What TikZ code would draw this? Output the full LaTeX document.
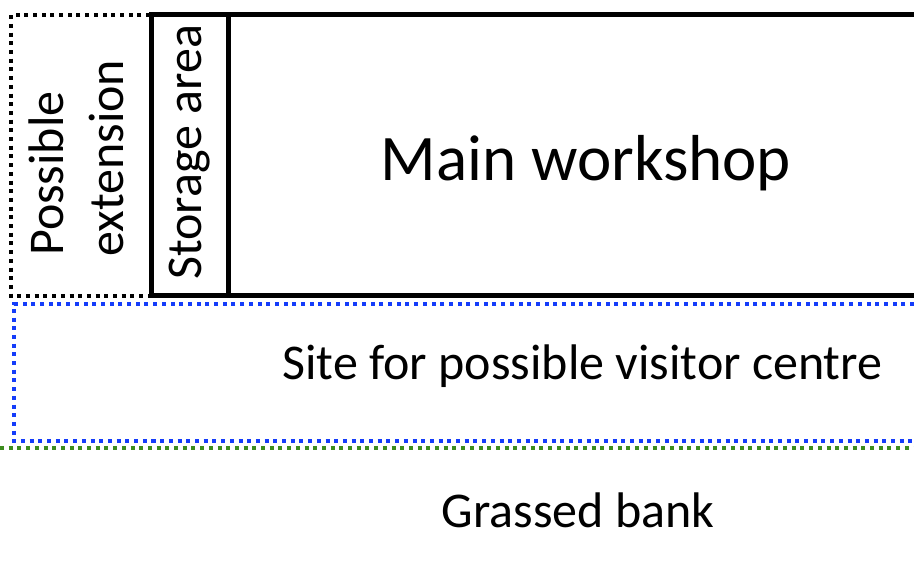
\documentclass[tikz,border=0pt]{standalone}
\usepackage{fontspec}
\setmainfont{Carlito}
\definecolor{siteblue}{RGB}{20,60,250}
\definecolor{bankgreen}{RGB}{60,140,30}
\tikzset{
	wall/.style={line width=5pt},
	dotline/.style={line width=4pt, dash pattern=on 4pt off 4.7pt},
	roomtext/.style={inner sep=0pt, font=\fontsize{50}{60}\selectfont}
}
\begin{document}
\begin{tikzpicture}[x=1pt, y=-1pt]
			
			\useasboundingbox (0,0) rectangle (914,571);
			
			\draw[dotline] (150,15) -| (11,296) -- (150,296);
			\draw[wall] (914,14) -| (151,295) -- (914,295)
			(228.5,14) -- (228.5,295);
			
			\draw[dotline, siteblue] (914,304) -| (14,441) -- (914,441);
			\draw[dotline, bankgreen] (0,448) -- (914,448);
			
			\node[roomtext, rotate=90, anchor=base west] (possible) at (63,256) {Possible};
			\node[roomtext, rotate=90, anchor=base west] (extension) at (123,257) {extension};
			\node[roomtext, rotate=90, anchor=base west] (storage) at (201,280) {Storage area};
			
			\node[roomtext, font=\fontsize{65}{78}\selectfont, anchor=base] (workshop) at (586,180) {Main workshop};
			\node[roomtext, anchor=base] (site) at (582.5,379) {Site for possible visitor centre};
			\node[roomtext, anchor=base] (bank) at (578,527) {Grassed bank};
			
\end{tikzpicture}
\end{document}
